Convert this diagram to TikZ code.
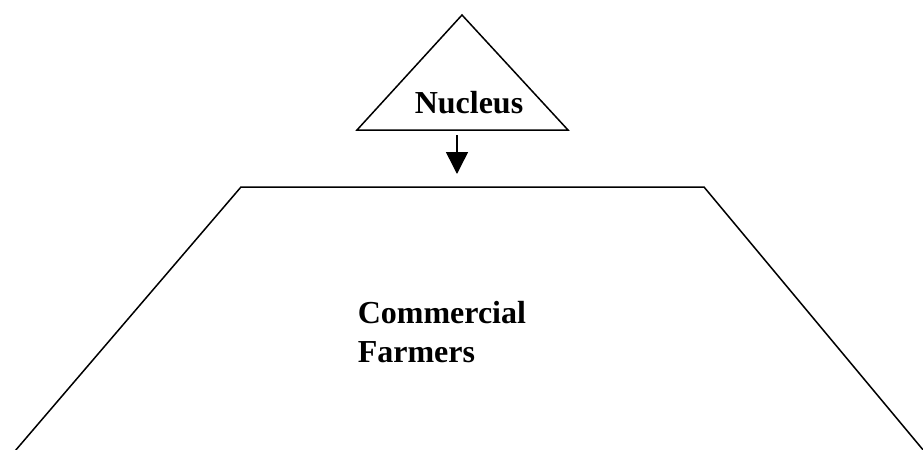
\documentclass[tikz,border=0pt]{standalone}
\usepackage{fontspec}
\setmainfont{Liberation Serif}
\usetikzlibrary{arrows.meta}

\begin{document}
\begin{tikzpicture}[x=0.5pt,y=-0.5pt,line width=0.75pt,
    label node/.style={inner sep=0pt,font=\fontsize{16}{19}\selectfont\bfseries}]

            \useasboundingbox (0,0) rectangle (923,450);

            % nucleus triangle
            \coordinate (apex) at (462,15);
            \coordinate (tl) at (357,130);
            \coordinate (tr) at (568,130);
            \draw (tl) -- (apex) -- (tr) -- cycle;
            \node[label node, anchor=base] (nucleus) at (469,113) {Nucleus};

            % commercial trapezoid
            \coordinate (ql) at (15,451);
            \coordinate (qtl) at (241,187);
            \coordinate (qtr) at (704,187);
            \coordinate (qr) at (924,451);
            \draw (ql) -- (qtl) -- (qtr) -- (qr);
            \node[label node, anchor=base west] (comm) at (357,323) {Commercial};
            \node[label node, anchor=base west] (farm) at (357,362) {Farmers};

            \coordinate (arrtop) at (457,135);
            \coordinate (arrbot) at (457,174);
            \draw[-{Triangle[length=11pt,width=11pt]}] (arrtop) -- (arrbot);

            ;
        \end{tikzpicture}
\end{document}
